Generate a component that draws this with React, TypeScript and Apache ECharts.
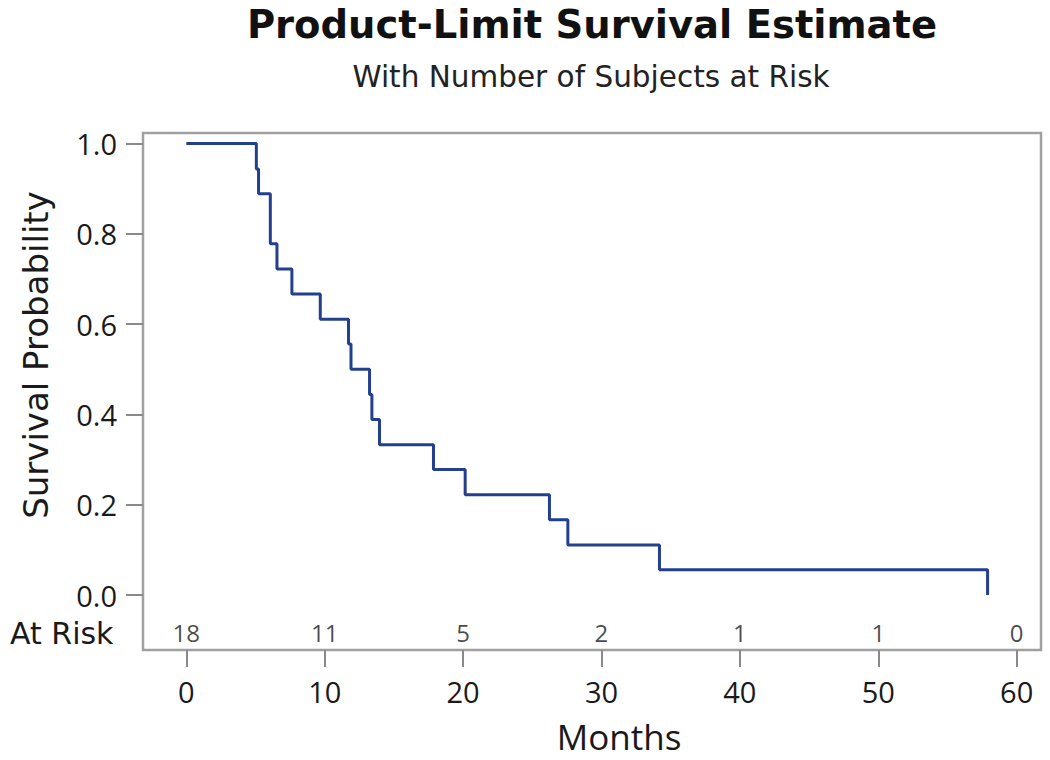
import React, { useEffect, useRef } from "react";
import * as echarts from "echarts";

// Kaplan-Meier event times (months) and survival after each event
const eventTimes = [0, 5.06, 5.22, 6.07, 6.55, 7.63, 9.68, 11.72, 11.9, 13.24, 13.41, 13.96, 17.86, 20.15, 26.24, 27.57, 34.19, 57.9];
const survival = [1.0, 0.944, 0.889, 0.778, 0.722, 0.667, 0.611, 0.556, 0.5, 0.444, 0.389, 0.333, 0.278, 0.222, 0.167, 0.111, 0.056, 0.0];

// Number at risk row
const riskTimes = [0, 10, 20, 30, 40, 50, 60];
const atRisk = [18, 11, 5, 2, 1, 1, 0];

// Tick labels
const xTicks = [0, 10, 20, 30, 40, 50, 60];
const yTicks = [0, 0.2, 0.4, 0.6, 0.8, 1.0];

const TITLE = "Product-Limit Survival Estimate";
const SUBTITLE = "With Number of Subjects at Risk";
const Y_NAME = "Survival Probability";
const X_NAME = "Months";
const RISK_LABEL = "At Risk";
const FONT = "'Open Sans', 'Liberation Sans', Arial, sans-serif";
const WIDE = "'DejaVu Sans', 'Open Sans', sans-serif";
const RISK_Y = -0.084;

export default function App() {
  const ref = useRef<HTMLDivElement>(null);
  useEffect(() => {
    if (!ref.current) return;
    const chart = echarts.init(ref.current, null, { renderer: "svg" });
    const option: any = {
      animation: false,
      backgroundColor: "#ffffff",
      grid: {
        left: 143,
        right: 9,
        top: 133,
        bottom: 110,
        show: true,
        borderColor: "#a0a0a0",
        borderWidth: 2.5,
        backgroundColor: "transparent",
      },
      xAxis: {
        type: "value",
        min: -3.13,
        max: 61.76,
        axisLine: { show: false, onZero: false },
        axisTick: {
          show: true,
          inside: false,
          length: 17,
          customValues: xTicks,
          lineStyle: { color: "#8a8a8a", width: 2 },
        },
        axisLabel: {
          customValues: xTicks,
          margin: 27,
          fontFamily: FONT,
          fontSize: 29,
          color: "#1a1a1a",
        },
        splitLine: { show: false },
      },
      yAxis: {
        type: "value",
        min: -0.1218,
        max: 1.0235,
        axisLine: { show: false, onZero: false },
        axisTick: {
          show: true,
          inside: false,
          length: 17,
          customValues: yTicks,
          lineStyle: { color: "#8a8a8a", width: 2 },
        },
        axisLabel: {
          customValues: yTicks,
          margin: 26,
          fontFamily: FONT,
          fontSize: 29,
          color: "#1a1a1a",
          formatter: (v: number) => v.toFixed(1),
        },
        splitLine: { show: false },
      },
      graphic: [
        {
          type: "text",
          x: 592,
          y: 24,
          style: {
            text: TITLE,
            font: `bold 38.5px ${WIDE}`,
            fill: "#111",
            textAlign: "center",
            textVerticalAlign: "middle",
          },
        },
        {
          type: "text",
          x: 591,
          y: 77,
          style: {
            text: SUBTITLE,
            font: `29.5px ${WIDE}`,
            fill: "#222",
            textAlign: "center",
            textVerticalAlign: "middle",
          },
        },
        {
          type: "text",
          x: 10,
          y: 633,
          style: {
            text: RISK_LABEL,
            font: `30px ${WIDE}`,
            fill: "#1a1a1a",
            textVerticalAlign: "middle",
          },
        },
        {
          type: "text",
          x: 36,
          y: 355,
          rotation: Math.PI / 2,
          style: {
            text: Y_NAME,
            font: `34px ${WIDE}`,
            fill: "#1a1a1a",
            textAlign: "center",
            textVerticalAlign: "middle",
          },
        },
        {
          type: "text",
          x: 619,
          y: 736,
          style: {
            text: X_NAME,
            font: `35px ${FONT}`,
            fill: "#1a1a1a",
            textAlign: "center",
            textVerticalAlign: "middle",
          },
        },
      ],
      series: [
        {
          type: "line",
          step: "end",
          data: eventTimes.map((t, i) => [t, survival[i]]),
          showSymbol: false,
          symbol: "none",
          lineStyle: { color: "#23408e", width: 3 },
          z: 3,
        },
        {
          type: "scatter",
          symbolSize: 0,
          data: riskTimes.map((t, i) => [t, RISK_Y, atRisk[i]]),
          label: {
            show: true,
            position: "inside",
            formatter: (p: any) => String(p.value[2]),
            fontFamily: FONT,
            fontSize: 24,
            color: "#1a1a1a",
          },
        },
      ],
    };
    chart.setOption(option);
    return () => chart.dispose();
  }, []);
  return (
    <div
      ref={ref}
      style={{ position: "fixed", left: 0, top: 0, width: 1050, height: 760, background: "#fff" }}
    />
  );
}
